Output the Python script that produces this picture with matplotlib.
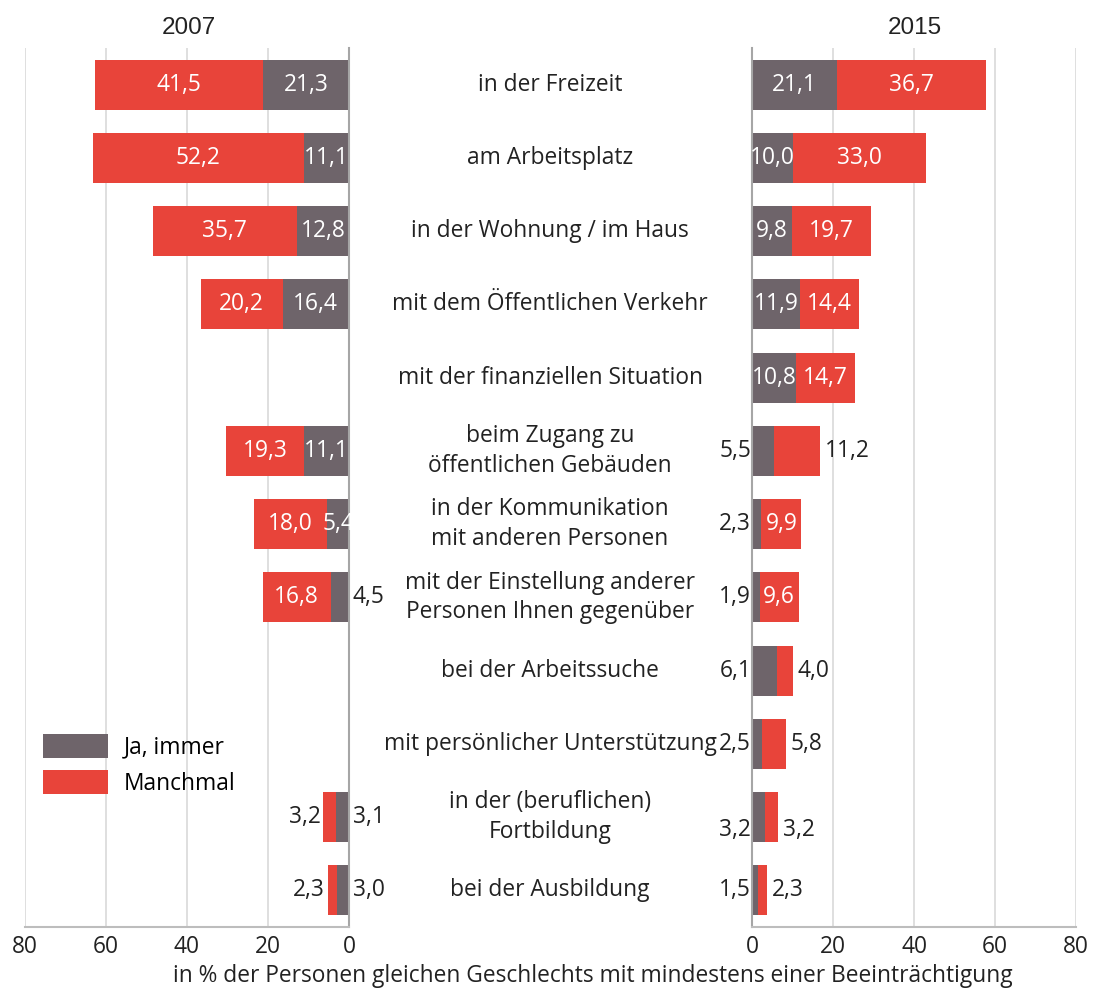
import numpy as np
import matplotlib
matplotlib.use("Agg")
import matplotlib.pyplot as plt
import matplotlib.transforms as mtransforms
from matplotlib.patches import Patch

categories = [
    "in der Freizeit",
    "am Arbeitsplatz",
    "in der Wohnung / im Haus",
    "mit dem Öffentlichen Verkehr",
    "mit der finanziellen Situation",
    "beim Zugang zu\nöffentlichen Gebäuden",
    "in der Kommunikation\nmit anderen Personen",
    "mit der Einstellung anderer\nPersonen Ihnen gegenüber",
    "bei der Arbeitssuche",
    "mit persönlicher Unterstützung",
    "in der (beruflichen)\nFortbildung",
    "bei der Ausbildung",
]
ja_2007 = [21.3, 11.1, 12.8, 16.4, np.nan, 11.1, 5.4, 4.5, np.nan, np.nan, 3.1, 3.0]
manch_2007 = [41.5, 52.2, 35.7, 20.2, np.nan, 19.3, 18.0, 16.8, np.nan, np.nan, 3.2, 2.3]
ja_2015 = [21.1, 10.0, 9.8, 11.9, 10.8, 5.5, 2.3, 1.9, 6.1, 2.5, 3.2, 1.5]
manch_2015 = [36.7, 33.0, 19.7, 14.4, 14.7, 11.2, 9.9, 9.6, 4.0, 5.8, 3.2, 2.3]
years = ["2007", "2015"]
series_names = ["Ja, immer", "Manchmal"]
xticks = [0, 20, 40, 60, 80]
xlabel = "in % der Personen gleichen Geschlechts mit mindestens einer Beeinträchtigung"

# label placement style: True = inside (white), False = outside (black)
ja07_in = [True, True, True, True, False, True, True, False, False, False, False, False]
ma07_in = [True, True, True, True, False, True, True, True, False, False, False, False]
ja15_in = [True, True, True, True, True, False, False, False, False, False, False, False]
ma15_in = [True, True, True, True, True, False, True, True, False, False, False, False]
row_dy15 = [0, 0, 0, 0, 0, 0, 0, 0, 0, 0, 0.17, 0]

GREY = "#6e646a"
RED = "#e8443a"
FONT = "Open Sans"
FS = 16.4

plt.rcParams["font.family"] = [FONT, "DejaVu Sans"]

fig = plt.figure(figsize=(10.93, 9.94), dpi=100)
W, H = 1093, 994
bottom = 1 - 927 / H
height = (927 - 48) / H
axL = fig.add_axes([25 / W, bottom, 324 / W, height])
axR = fig.add_axes([752 / W, bottom, 324 / W, height])

n = len(categories)
y = np.arange(n)
bh = 0.68


def fmt(v):
    return f"{v:.1f}".replace(".", ",")


def style(ax, side):
    ax.set_xlim(0, 80)
    ax.set_ylim(n - 0.5, -0.5)
    ax.set_xticks(xticks)
    ax.set_xticklabels([str(t) for t in xticks], fontsize=FS, color="#222222")
    ax.tick_params(axis="x", length=0, pad=6)
    ax.set_yticks([])
    ax.grid(axis="x", color="#d9d9d9", linewidth=1.2)
    ax.set_axisbelow(True)
    for s in ax.spines.values():
        s.set_visible(False)
    ax.spines["bottom"].set_visible(True)
    ax.spines["bottom"].set_color("#bdbdbd")
    ax.spines["bottom"].set_linewidth(1.5)
    ax.spines[side].set_visible(True)
    ax.spines[side].set_color("#a6a6a6")
    ax.spines[side].set_linewidth(1.5)


style(axL, "right")
axL.invert_xaxis()
style(axR, "left")

ja07 = np.array(ja_2007)
ma07 = np.array(manch_2007)
ja15 = np.array(ja_2015)
ma15 = np.array(manch_2015)

axL.barh(y, ja07, height=bh, color=GREY)
axL.barh(y, ma07, left=ja07, height=bh, color=RED)
axR.barh(y, ja15, height=bh, color=GREY)
axR.barh(y, ma15, left=ja15, height=bh, color=RED)

for i in range(n):
    # 2007 (inverted axis)
    if not np.isnan(ja07[i]):
        if ja07_in[i]:
            axL.text(ja07[i] / 2, i, fmt(ja07[i]), ha="center", va="center", color="white", fontsize=FS)
        else:
            axL.text(-0.9, i, fmt(ja07[i]), ha="left", va="center", color="#222222", fontsize=FS)
        if ma07_in[i]:
            axL.text(ja07[i] + ma07[i] / 2, i, fmt(ma07[i]), ha="center", va="center", color="white", fontsize=FS)
        else:
            axL.text(ja07[i] + ma07[i] + 0.6, i, fmt(ma07[i]), ha="right", va="center", color="#222222", fontsize=FS)
    # 2015
    yy = i + row_dy15[i]
    if ja15_in[i]:
        axR.text(ja15[i] / 2, i, fmt(ja15[i]), ha="center", va="center", color="white", fontsize=FS)
    else:
        axR.text(-0.2, yy, fmt(ja15[i]), ha="right", va="center", color="#222222", fontsize=FS)
    if ma15_in[i]:
        axR.text(ja15[i] + ma15[i] / 2, i, fmt(ma15[i]), ha="center", va="center", color="white", fontsize=FS)
    else:
        axR.text(ja15[i] + ma15[i] + 1.2, yy, fmt(ma15[i]), ha="left", va="center", color="#222222", fontsize=FS)

# category labels in the middle
tr = mtransforms.blended_transform_factory(fig.transFigure, axR.transData)
for i, c in enumerate(categories):
    fig.text(550 / W, i, c, transform=tr, ha="center", va="center", fontsize=FS,
             color="#222222", linespacing=1.3, multialignment="center")

# year titles
fig.text(189 / W, 1 - 28 / H, years[0], ha="center", va="center", fontsize=17.5,
         family="Liberation Sans", color="#222222")
fig.text(915 / W, 1 - 28 / H, years[1], ha="center", va="center", fontsize=17.5,
         family="Liberation Sans", color="#222222")

# x label
fig.text(593 / W, 1 - 976 / H, xlabel, ha="center", va="center", fontsize=FS, color="#222222")

# legend
handles = [Patch(facecolor=GREY, label=series_names[0]), Patch(facecolor=RED, label=series_names[1])]
fig.legend(handles=handles, loc="upper left", bbox_to_anchor=(43 / W, 1 - 734 / H),
           frameon=False, fontsize=FS, handlelength=2.85, handleheight=1.25,
           labelspacing=0.45, handletextpad=0.7, borderpad=0, borderaxespad=0)

fig.savefig("out.png", dpi=100, facecolor="white")
